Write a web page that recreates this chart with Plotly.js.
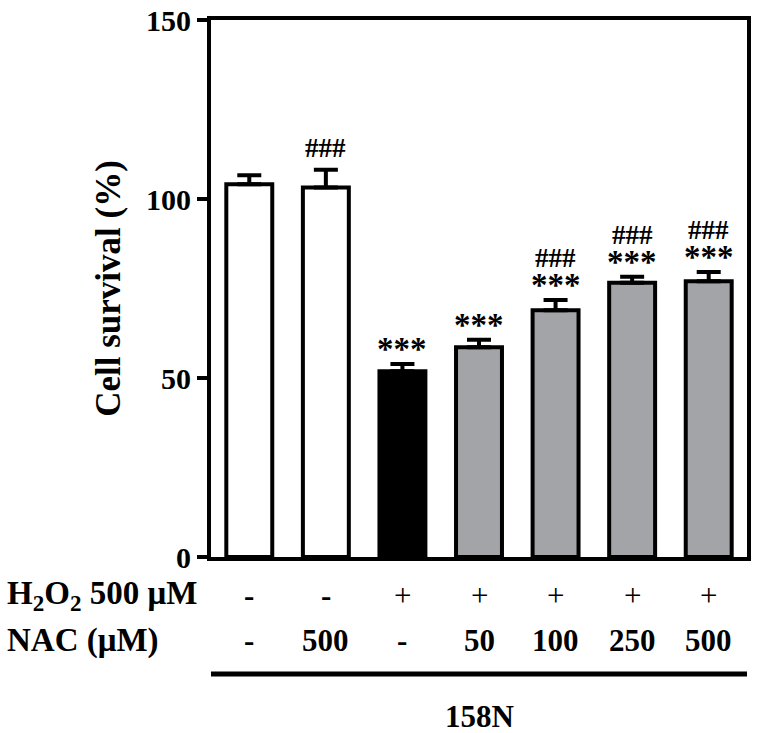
<!DOCTYPE html>
<html>
<head>
<meta charset="utf-8">
<script src="https://cdn.plot.ly/plotly-3.0.1.min.js"></script>
<style>html,body{margin:0;padding:0;background:#fff;}#chart{width:764px;height:733px;}</style>
</head>
<body>
<div id="chart"></div>
<script>
// ---- data ----
const h2o2 = ['-', '-', '+', '+', '+', '+', '+'];
const nac = ['-', '500', '-', '50', '100', '250', '500'];
const survival = [104.1, 103.2, 51.9, 58.6, 68.9, 76.6, 77.0];
const sem = [2.5, 5.0, 2.0, 2.1, 2.9, 1.7, 2.6];
const stars = ['', '', '***', '***', '***', '***', '***'];
const hashes = ['', '###', '', '', '###', '###', '###'];
const yTicks = [0, 50, 100, 150];
const rowLabels = ['H<sub>2</sub>O<sub>2</sub> 500 μM', 'NAC (μM)'];
const groupLabel = '158N';

// ---- styles ----
const barColors = ['#ffffff', '#ffffff', '#000000', '#a3a4a8', '#a3a4a8', '#a3a4a8', '#a3a4a8'];
const FONT = "'Liberation Serif', 'Times New Roman', serif";
const xIdx = survival.map((_, i) => i);
const rowY = [-0.0726, -0.1546];

const trace = {
  type: 'bar',
  x: xIdx,
  y: survival,
  width: 0.6,
  marker: {color: barColors, line: {color: '#000', width: 4}},
  error_y: {type: 'data', symmetric: false, array: sem, arrayminus: sem.map(() => 0),
            color: '#000', thickness: 4, width: 12},
  hoverinfo: 'none'
};

const annotations = [];
xIdx.forEach(i => {
  const top = survival[i] + sem[i];
  if (stars[i]) {
    annotations.push({x: i, y: top, xref: 'x', yref: 'y', text: stars[i], showarrow: false,
      yanchor: 'bottom', yshift: -5, font: {family: FONT, size: 33, weight: 'bold', color: '#000'}});
  }
  if (hashes[i]) {
    annotations.push({x: i, y: top, xref: 'x', yref: 'y', text: hashes[i], showarrow: false,
      yanchor: 'bottom', yshift: stars[i] ? 25 : 5, font: {family: FONT, size: 27, weight: 'bold', color: '#000'}});
  }
  annotations.push({x: i, y: rowY[0], xref: 'x', yref: 'paper', text: h2o2[i], showarrow: false,
    yanchor: 'middle', font: {family: FONT, size: 31, weight: h2o2[i] === '+' ? 'normal' : 'bold', color: '#000'}});
  annotations.push({x: i, y: rowY[1], xref: 'x', yref: 'paper', text: nac[i], showarrow: false,
    yanchor: 'middle', font: {family: FONT, size: 31, weight: 'bold', color: '#000'}});
});
rowY.forEach((yy, k) => {
  annotations.push({x: -0.385, y: yy, xref: 'paper', yref: 'paper', text: rowLabels[k], showarrow: false,
    xanchor: 'left', yanchor: 'middle', font: {family: FONT, size: 33, weight: 'bold', color: '#000'}});
});
annotations.push({x: 0.5, y: -0.297, xref: 'paper', yref: 'paper', text: groupLabel, showarrow: false,
  xanchor: 'center', yanchor: 'middle', font: {family: FONT, size: 31, weight: 'bold', color: '#000'}});

const layout = {
  width: 764, height: 733,
  margin: {l: 211, r: 17, t: 20, b: 176},
  paper_bgcolor: '#fff', plot_bgcolor: '#fff',
  showlegend: false,
  font: {family: FONT, color: '#000'},
  xaxis: {range: [-0.5, 6.5], showticklabels: false, ticks: '', showgrid: false, zeroline: false,
          showline: true, linecolor: '#000', linewidth: 4, mirror: true, fixedrange: true},
  yaxis: {range: [0, 150], tickvals: yTicks, ticktext: yTicks.map(String), ticks: 'outside',
          ticklen: 10, tickwidth: 4, tickcolor: '#000', showgrid: false, zeroline: false,
          showline: true, linecolor: '#000', linewidth: 4, mirror: true,
          tickfont: {family: FONT, size: 30, weight: 'bold', color: '#000'},
          title: {text: 'Cell survival (%)', standoff: 16, font: {family: FONT, size: 35, weight: 'bold', color: '#000'}}},
  annotations: annotations,
  shapes: [{type: 'line', xref: 'paper', yref: 'paper', x0: 0, x1: 1, y0: -0.218, y1: -0.218,
            line: {color: '#000', width: 5}}]
};

Plotly.newPlot('chart', [trace], layout, {displayModeBar: false, staticPlot: true});
</script>
</body>
</html>
